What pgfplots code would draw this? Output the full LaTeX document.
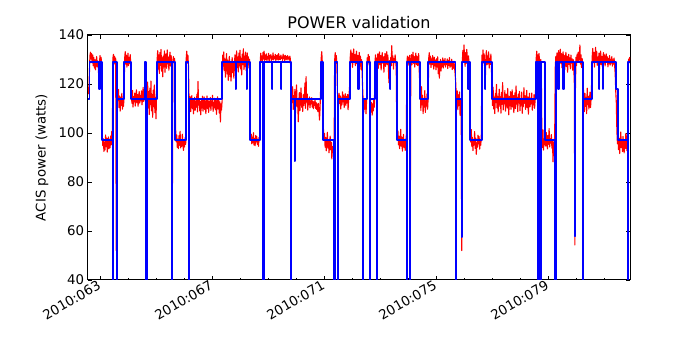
\documentclass[border=0pt]{standalone}
\usepackage{pgfplots}
\pgfplotsset{compat=1.18}
\usepackage{fontspec}
\setmainfont{DejaVu Sans}

\begin{document}
\begin{tikzpicture}
\path[use as bounding box] (-79.2pt,-63pt) rectangle (550.8pt,252pt);
\begin{axis}[
  scale only axis, width=487.8pt, height=220.5pt,
  xmin=62.571, xmax=81.929, ymin=40, ymax=140,
  xtick={63,67,71,75,79},
  xticklabels={2010:063,2010:067,2010:071,2010:075,2010:079},
  minor xtick={63,...,81},
  ytick={40,60,...,140},
  tick align=inside,
  major tick length=4pt, minor tick length=2pt,
  every tick/.style={black, line width=0.6pt},
  axis line style={line width=0.9pt},
  /pgf/number format/assume math mode=true,
  tick label style={font=\fontsize{12}{14}\selectfont},
  xticklabel style={rotate=30, anchor=east, xshift=1pt, yshift=-3pt},
  ylabel={ACIS power (watts)},
  ylabel style={font=\fontsize{12}{14}\selectfont, at={(axis description cs:-0.085,0.5)}, anchor=center},
  title={POWER validation},
  every axis title/.style={font=\fontsize{14.4}{17}\selectfont, at={(axis description cs:0.5,1)}, anchor=base, yshift=5.4pt},
]
% telemetry (red)
\addplot[red, line width=1pt, line join=round] coordinates {
(62.575,117.0) (62.58,118.5) (62.60,116.0) (62.62,124.0) (62.64,131.5) (62.66,133.0) (62.68,130.2) (62.70,132.4) (62.72,128.6) (62.74,131.9)
(62.76,127.4) (62.78,130.8) (62.80,126.5) (62.82,129.9) (62.84,125.8) (62.86,128.7) (62.88,131.2) (62.90,127.1) (62.92,129.4) (62.94,126.3)
(62.96,122.0) (62.98,128.5) (63.00,131.6) (63.02,128.0) (63.04,130.9) (63.06,126.2) (63.08,99.5) (63.10,94.8) (63.12,97.6) (63.14,92.5)
(63.16,96.3) (63.18,93.1) (63.20,99.2) (63.22,94.4) (63.24,97.9) (63.26,92.2) (63.28,95.8) (63.30,98.4) (63.32,93.6) (63.34,96.9)
(63.36,94.0) (63.38,98.8) (63.40,95.2) (63.42,100.6) (63.44,96.4) (63.46,130.5) (63.48,132.1) (63.50,128.4) (63.52,131.3) (63.54,127.9)
(63.56,130.6) (63.58,52.0) (63.60,128.2) (63.62,116.5) (63.64,113.2) (63.66,117.8) (63.68,110.4) (63.70,115.1) (63.72,108.9) (63.74,114.6)
(63.76,111.3) (63.78,116.2) (63.80,109.7) (63.82,113.8) (63.84,110.9) (63.86,115.4) (63.88,130.4) (63.90,133.2) (63.92,128.1) (63.94,131.8)
(63.96,126.9) (63.98,130.1) (64.00,132.6) (64.02,127.5) (64.04,130.9) (64.06,128.3) (64.08,132.0) (64.10,127.2) (64.12,115.8) (64.14,112.1)
(64.16,117.4) (64.18,110.6) (64.20,114.9) (64.22,112.7) (64.24,116.3) (64.26,111.0) (64.28,114.2) (64.30,117.6) (64.32,112.4) (64.34,115.7)
(64.36,110.9) (64.38,114.8) (64.40,116.9) (64.42,112.2) (64.44,115.3) (64.46,113.1) (64.48,117.2) (64.50,111.5) (64.52,114.4) (64.54,118.6)
(64.56,112.9) (64.58,116.1) (64.60,113.6) (64.62,121.5) (64.64,128.0) (64.66,118.0) (64.68,113.4) (64.70,120.8) (64.72,110.2) (64.74,116.9)
(64.76,107.5) (64.78,118.3) (64.80,111.6) (64.82,121.2) (64.84,109.0) (64.86,115.7) (64.88,106.4) (64.90,117.5) (64.92,110.8) (64.94,119.6)
(64.96,108.3) (64.98,114.5) (65.00,105.8) (65.02,116.2) (65.04,129.8) (65.06,133.6) (65.08,126.1) (65.10,131.9) (65.12,124.3) (65.14,132.8)
(65.16,127.6) (65.18,134.1) (65.20,125.2) (65.22,130.7) (65.24,122.9) (65.26,131.4) (65.28,127.0) (65.30,133.5) (65.32,124.8) (65.34,129.6)
(65.36,132.3) (65.38,126.4) (65.40,133.9) (65.42,128.2) (65.44,131.0) (65.46,125.6) (65.48,130.3) (65.50,133.0) (65.52,127.3) (65.54,131.6)
(65.56,129.0) (65.58,53.5) (65.60,127.5) (65.62,131.2) (65.64,128.8) (65.66,130.4) (65.68,127.9) (65.70,101.8) (65.72,96.4) (65.74,99.2)
(65.76,94.1) (65.78,97.5) (65.80,93.6) (65.82,98.9) (65.84,95.0) (65.86,100.7) (65.88,93.9) (65.90,97.3) (65.92,94.6) (65.94,99.5)
(65.96,95.8) (65.98,92.9) (66.00,96.7) (66.02,94.3) (66.04,98.1) (66.06,95.4) (66.08,130.6) (66.10,133.4) (66.12,128.5) (66.14,131.7)
(66.16,127.2) (66.18,113.5) (66.20,110.8) (66.22,114.9) (66.24,108.7) (66.26,112.6) (66.28,115.3) (66.30,109.9) (66.32,113.7) (66.34,107.8)
(66.36,112.1) (66.38,114.6) (66.40,109.3) (66.42,113.0) (66.44,110.5) (66.46,115.8) (66.48,108.6) (66.50,121.0) (66.52,111.4) (66.54,114.1)
(66.56,109.0) (66.58,112.8) (66.60,107.4) (66.62,113.9) (66.64,110.2) (66.66,115.0) (66.68,108.9) (66.70,112.3) (66.72,114.7) (66.74,109.6)
(66.76,113.2) (66.78,107.9) (66.80,111.8) (66.82,115.1) (66.84,110.0) (66.86,113.6) (66.88,108.4) (66.90,112.9) (66.92,110.7) (66.94,114.5)
(66.96,109.2) (66.98,113.0) (67.00,111.1) (67.02,115.4) (67.04,108.8) (67.06,112.5) (67.08,110.3) (67.10,114.2) (67.12,109.5) (67.14,113.3)
(67.16,107.6) (67.18,112.0) (67.20,114.8) (67.22,109.8) (67.24,113.5) (67.26,108.1) (67.28,112.7) (67.30,104.5) (67.32,111.9) (67.34,109.4)
(67.36,113.0) (67.38,131.8) (67.40,127.3) (67.42,133.1) (67.44,125.6) (67.46,130.2) (67.48,122.8) (67.50,128.9) (67.52,132.4) (67.54,124.1)
(67.56,129.7) (67.58,121.5) (67.60,127.8) (67.62,131.3) (67.64,123.0) (67.66,128.5) (67.68,121.2) (67.70,126.9) (67.72,130.8) (67.74,124.6)
(67.76,129.1) (67.78,122.4) (67.80,127.6) (67.82,131.9) (67.84,125.3) (67.86,129.8) (67.88,133.5) (67.90,126.7) (67.92,131.0) (67.94,124.9)
(67.96,132.6) (67.98,127.4) (68.00,133.8) (68.02,126.2) (68.04,130.5) (68.06,123.7) (68.08,132.2) (68.10,128.0) (68.12,134.4) (68.14,125.9)
(68.16,131.4) (68.18,127.1) (68.20,133.0) (68.22,125.4) (68.24,129.3) (68.26,132.7) (68.28,127.8) (68.30,131.1) (68.32,126.5) (68.34,130.0)
(68.36,100.8) (68.38,97.2) (68.40,99.5) (68.42,95.6) (68.44,98.3) (68.46,96.0) (68.48,100.1) (68.50,95.1) (68.52,97.8) (68.54,94.8)
(68.56,99.0) (68.58,96.4) (68.60,98.6) (68.62,95.3) (68.64,97.1) (68.66,94.6) (68.68,98.2) (68.70,96.9) (68.72,127.9) (68.74,132.6)
(68.76,129.8) (68.78,131.5) (68.80,128.7) (68.82,132.9) (68.84,130.2) (68.86,133.4) (68.88,129.6) (68.90,131.8) (68.92,130.0) (68.94,132.3)
(68.96,129.4) (68.98,131.1) (69.00,130.3) (69.02,132.5) (69.04,129.1) (69.06,131.7) (69.08,130.6) (69.10,132.0) (69.12,129.3) (69.14,131.4)
(69.16,130.1) (69.18,132.7) (69.20,129.8) (69.22,131.2) (69.24,130.4) (69.26,132.1) (69.28,129.5) (69.30,131.6) (69.32,130.2) (69.34,131.9)
(69.36,129.7) (69.38,132.4) (69.40,130.0) (69.42,131.3) (69.44,129.9) (69.46,131.8) (69.48,130.5) (69.50,131.0) (69.52,129.6) (69.54,132.2)
(69.56,130.3) (69.58,131.5) (69.60,129.4) (69.62,131.7) (69.64,130.1) (69.66,131.2) (69.68,129.8) (69.70,131.6) (69.72,130.2) (69.74,130.9)
(69.76,129.7) (69.78,131.4) (69.80,130.0) (69.84,116.0) (69.86,112.5) (69.88,118.9) (69.90,109.6) (69.92,115.2) (69.94,111.0) (69.96,117.8)
(69.98,108.2) (70.00,114.3) (70.02,119.6) (70.04,110.7) (70.06,113.9) (70.08,104.6) (70.10,112.8) (70.12,116.5) (70.14,109.1) (70.16,114.0)
(70.18,118.4) (70.20,110.5) (70.22,113.7) (70.24,108.8) (70.26,115.6) (70.28,111.2) (70.30,114.8) (70.32,120.4) (70.34,110.1) (70.36,123.0)
(70.38,112.6) (70.40,115.9) (70.42,109.4) (70.44,113.5) (70.46,111.6) (70.48,114.7) (70.50,110.3) (70.52,113.1) (70.54,111.9) (70.56,114.4)
(70.58,110.6) (70.60,113.0) (70.62,109.9) (70.64,112.7) (70.66,111.3) (70.68,113.8) (70.70,110.0) (70.72,112.4) (70.74,109.6) (70.76,111.8)
(70.78,108.7) (70.80,112.1) (70.82,109.2) (70.84,105.3) (70.86,110.4) (70.88,118.0) (70.90,130.4) (70.92,133.2) (70.94,128.6) (70.96,124.0)
(70.98,101.5) (71.00,97.3) (71.02,99.8) (71.04,94.2) (71.06,98.1) (71.08,92.7) (71.10,96.5) (71.12,100.3) (71.14,93.8) (71.16,97.0)
(71.18,91.9) (71.20,95.6) (71.22,98.7) (71.24,93.1) (71.26,96.2) (71.28,89.4) (71.30,94.5) (71.32,92.0) (71.34,95.9) (71.36,90.8)
(71.38,129.5) (71.40,132.8) (71.42,128.3) (71.44,131.6) (71.46,127.9) (71.48,116.5) (71.50,114.6) (71.52,110.9) (71.54,116.2) (71.56,112.0)
(71.58,115.1) (71.60,109.8) (71.62,114.3) (71.64,111.5) (71.66,116.8) (71.68,112.7) (71.70,115.5) (71.72,110.4) (71.74,113.6) (71.76,116.0)
(71.78,111.2) (71.80,114.9) (71.82,112.3) (71.84,115.7) (71.86,109.5) (71.88,113.8) (71.90,116.4) (71.92,120.0) (71.94,131.5) (71.96,133.9)
(71.98,128.7) (72.00,132.6) (72.02,126.8) (72.04,131.2) (72.06,134.3) (72.08,129.4) (72.10,132.0) (72.12,127.5) (72.14,130.8) (72.16,133.4)
(72.18,128.2) (72.20,131.7) (72.22,124.6) (72.24,130.1) (72.26,132.9) (72.28,127.3) (72.30,131.4) (72.32,126.0) (72.34,129.9) (72.36,125.2)
(72.38,118.3) (72.40,112.6) (72.42,108.4) (72.44,114.1) (72.46,109.7) (72.48,113.5) (72.50,107.8) (72.52,112.9) (72.54,130.7) (72.56,127.6)
(72.58,132.1) (72.60,128.9) (72.62,131.3) (72.66,113.2) (72.68,108.6) (72.70,112.4) (72.72,107.3) (72.74,111.9) (72.76,109.0) (72.78,113.7)
(72.80,110.5) (72.82,128.6) (72.84,131.9) (72.86,127.7) (72.88,130.6) (72.90,128.1) (72.92,132.3) (72.94,126.4) (72.96,130.9) (72.98,133.1)
(73.00,127.9) (73.02,131.6) (73.04,125.7) (73.06,130.2) (73.08,132.8) (73.10,128.5) (73.12,131.1) (73.14,124.8) (73.16,129.7) (73.18,132.5)
(73.20,127.2) (73.22,130.4) (73.24,133.2) (73.26,128.0) (73.28,131.8) (73.30,126.6) (73.32,120.5) (73.34,129.5) (73.36,123.9) (73.38,130.8)
(73.40,127.4) (73.42,135.6) (73.44,128.9) (73.46,131.5) (73.48,126.1) (73.50,130.3) (73.52,128.8) (73.54,131.9) (73.56,129.2) (73.58,126.4)
(73.60,102.0) (73.62,97.6) (73.64,100.9) (73.66,95.2) (73.68,98.7) (73.70,93.6) (73.72,97.9) (73.74,101.5) (73.76,94.7) (73.78,98.3)
(73.80,92.6) (73.82,96.8) (73.84,99.4) (73.86,94.0) (73.88,97.1) (73.90,92.9) (73.92,96.4) (73.94,99.0) (73.96,128.7) (73.98,131.4)
(74.00,127.6) (74.02,130.9) (74.04,128.2) (74.06,131.7) (74.08,52.5) (74.10,129.3) (74.12,132.0) (74.14,127.8) (74.16,130.6) (74.18,133.0)
(74.20,128.4) (74.22,131.2) (74.24,126.9) (74.26,130.5) (74.28,132.6) (74.30,128.0) (74.32,131.3) (74.34,127.5) (74.36,130.1) (74.38,132.4)
(74.40,125.8) (74.42,120.5) (74.44,116.8) (74.46,109.2) (74.48,118.9) (74.50,111.5) (74.52,115.4) (74.54,107.9) (74.56,114.0) (74.58,110.6)
(74.60,117.3) (74.62,108.4) (74.64,113.1) (74.66,111.0) (74.68,116.0) (74.70,109.7) (74.72,114.3) (74.74,130.5) (74.76,132.8) (74.78,128.1)
(74.80,131.4) (74.82,126.7) (74.84,130.2) (74.86,127.9) (74.88,131.6) (74.90,128.8) (74.92,126.1) (74.94,130.9) (74.96,127.4) (74.98,129.6)
(75.00,125.8) (75.02,130.3) (75.04,127.0) (75.06,131.1) (75.08,124.2) (75.10,128.5) (75.12,122.4) (75.14,127.7) (75.16,130.0) (75.18,125.3)
(75.20,129.2) (75.22,127.1) (75.24,130.6) (75.26,126.5) (75.28,129.7) (75.30,127.8) (75.32,130.4) (75.34,126.9) (75.36,129.1) (75.38,128.0)
(75.40,130.2) (75.42,126.3) (75.44,129.5) (75.46,127.6) (75.48,130.8) (75.50,126.8) (75.52,129.0) (75.54,127.3) (75.56,130.1) (75.58,125.9)
(75.60,128.6) (75.62,126.4) (75.64,129.3) (75.66,127.0) (75.68,124.7) (75.70,121.5) (75.72,116.4) (75.74,112.0) (75.76,117.2) (75.78,109.5)
(75.80,115.6) (75.82,111.3) (75.84,116.8) (75.86,107.2) (75.88,113.9) (75.90,110.6) (75.92,52.0) (75.94,128.9) (75.96,133.7) (75.98,129.5)
(76.00,135.9) (76.02,130.6) (76.04,127.2) (76.06,132.8) (76.08,128.4) (76.10,134.1) (76.12,130.0) (76.14,126.8) (76.16,131.5) (76.18,128.6)
(76.20,124.5) (76.22,99.8) (76.24,96.3) (76.26,101.4) (76.28,94.5) (76.30,98.2) (76.32,92.8) (76.34,97.4) (76.36,95.1) (76.38,100.6)
(76.40,93.7) (76.42,97.9) (76.44,91.3) (76.46,96.0) (76.48,94.2) (76.50,99.1) (76.52,95.6) (76.54,98.5) (76.56,93.4) (76.58,97.2)
(76.60,95.0) (76.62,99.6) (76.64,131.8) (76.66,127.4) (76.68,133.9) (76.70,128.6) (76.72,132.3) (76.74,126.9) (76.76,120.5) (76.78,130.7)
(76.80,133.6) (76.82,127.8) (76.84,131.5) (76.86,128.2) (76.88,133.1) (76.90,126.5) (76.92,130.4) (76.94,128.0) (76.96,132.2) (76.98,127.0)
(77.00,116.5) (77.02,111.2) (77.04,118.7) (77.06,109.8) (77.08,114.6) (77.10,107.9) (77.12,116.1) (77.14,112.4) (77.16,119.8) (77.18,110.3)
(77.20,115.0) (77.22,108.6) (77.24,113.7) (77.26,117.9) (77.28,110.9) (77.30,114.8) (77.32,108.1) (77.34,116.6) (77.36,111.7) (77.38,120.6)
(77.40,109.4) (77.42,114.2) (77.44,112.0) (77.46,117.3) (77.48,108.9) (77.50,113.4) (77.52,115.8) (77.54,110.2) (77.56,118.2) (77.58,112.5)
(77.60,107.4) (77.62,114.9) (77.64,111.1) (77.66,116.9) (77.68,109.7) (77.70,113.1) (77.72,117.6) (77.74,110.6) (77.76,115.3) (77.78,108.3)
(77.80,112.8) (77.82,116.4) (77.84,110.0) (77.86,119.2) (77.88,111.8) (77.90,114.5) (77.92,108.7) (77.94,115.9) (77.96,112.3) (77.98,117.0)
(78.00,109.1) (78.02,113.9) (78.04,111.4) (78.06,116.7) (78.08,108.0) (78.10,114.1) (78.12,110.8) (78.14,118.5) (78.16,112.1) (78.18,115.2)
(78.20,109.6) (78.22,113.6) (78.24,117.4) (78.26,110.4) (78.28,114.7) (78.30,107.7) (78.32,112.9) (78.34,116.2) (78.36,110.7) (78.38,114.0)
(78.40,111.9) (78.42,116.3) (78.44,109.3) (78.46,113.5) (78.48,111.5) (78.50,115.6) (78.52,110.1) (78.54,113.3) (78.56,118.5) (78.58,130.6)
(78.60,133.4) (78.62,127.8) (78.64,131.9) (78.66,125.3) (78.68,132.5) (78.70,128.1) (78.72,122.6) (78.74,130.0) (78.76,126.4) (78.78,99.5)
(78.80,94.1) (78.82,101.3) (78.84,93.0) (78.86,97.6) (78.88,95.2) (78.90,98.8) (78.92,94.7) (78.94,100.2) (78.96,96.1) (78.98,93.5)
(79.00,99.0) (79.02,95.4) (79.04,101.8) (79.06,94.3) (79.08,97.7) (79.10,95.9) (79.12,99.4) (79.14,93.8) (79.16,97.0) (79.18,88.2)
(79.20,96.3) (79.22,94.9) (79.24,99.1) (79.26,126.8) (79.28,131.3) (79.30,128.4) (79.32,132.7) (79.34,126.1) (79.36,130.5) (79.38,133.6)
(79.40,127.9) (79.42,131.0) (79.44,134.2) (79.46,128.3) (79.48,132.4) (79.50,126.6) (79.52,130.8) (79.54,133.1) (79.56,127.5) (79.58,131.7)
(79.60,125.9) (79.62,130.2) (79.64,132.9) (79.66,127.1) (79.68,131.4) (79.70,124.8) (79.72,129.6) (79.74,132.1) (79.76,127.9) (79.78,130.7)
(79.80,126.2) (79.82,131.8) (79.84,128.5) (79.86,130.3) (79.88,125.6) (79.90,129.9) (79.92,127.4) (79.94,120.5) (79.96,54.3) (79.98,118.0)
(80.00,130.9) (80.02,127.5) (80.04,132.2) (80.06,128.8) (80.08,133.0) (80.10,129.2) (80.12,131.6) (80.14,135.9) (80.16,128.1) (80.18,131.9)
(80.20,126.7) (80.22,130.4) (80.24,127.8) (80.26,119.5) (80.28,113.6) (80.30,108.7) (80.32,116.2) (80.34,110.9) (80.36,114.5) (80.38,107.9)
(80.40,118.3) (80.42,111.6) (80.44,115.0) (80.46,109.8) (80.48,113.2) (80.50,116.7) (80.52,110.4) (80.54,114.1) (80.56,120.8) (80.58,131.2)
(80.60,134.5) (80.62,128.7) (80.64,132.9) (80.66,126.9) (80.68,131.5) (80.70,135.0) (80.72,129.1) (80.74,133.2) (80.76,127.6) (80.78,131.0)
(80.80,128.3) (80.82,132.6) (80.84,126.2) (80.86,130.7) (80.88,133.4) (80.90,128.0) (80.92,131.3) (80.94,127.2) (80.96,130.5) (80.98,132.8)
(81.00,128.6) (81.02,131.9) (81.04,127.4) (81.06,130.1) (81.08,132.3) (81.10,128.9) (81.12,131.1) (81.14,127.0) (81.16,130.4) (81.18,128.2)
(81.20,131.6) (81.22,127.7) (81.24,130.0) (81.26,128.5) (81.28,131.2) (81.30,127.3) (81.32,129.8) (81.34,128.1) (81.36,130.6) (81.38,127.5)
(81.40,124.3) (81.42,117.0) (81.44,112.5) (81.46,101.2) (81.48,95.6) (81.50,99.3) (81.52,93.2) (81.54,97.8) (81.56,91.6) (81.58,96.2)
(81.60,100.4) (81.62,94.0) (81.64,97.3) (81.66,92.4) (81.68,98.6) (81.70,95.1) (81.72,91.9) (81.74,97.0) (81.76,93.7) (81.78,99.8)
(81.80,95.5) (81.82,92.8) (81.84,97.4) (81.86,125.0) (81.88,130.2) (81.90,128.6) (81.92,131.0)
};
% model (blue)
\addplot[blue, line width=1.6pt, const plot, line join=round] coordinates {
(62.571,114) (62.625,129) (62.964,118) (62.986,129) (63.071,97) (63.450,0) (63.471,129) (63.600,0) (63.625,114) (63.868,129)
(64.107,114) (64.618,129) (64.650,0) (64.671,114) (65.025,129) (65.564,0) (65.586,129) (65.689,97) (66.071,129) (66.157,0)
(66.179,114) (67.368,129) (67.839,118) (67.857,129) (68.232,118) (68.250,129) (68.357,97) (68.714,129) (68.825,0) (68.846,129)
(69.143,118) (69.161,129) (69.464,118) (69.482,129) (69.821,0) (69.843,114) (69.950,88.6) (69.971,114) (70.893,129) (70.975,97)
(71.364,0) (71.386,129) (71.479,0) (71.500,114) (71.929,129) (72.221,118) (72.239,129) (72.375,0) (72.397,114) (72.525,129)
(72.636,0) (72.657,114) (72.821,129) (72.879,0) (72.900,129) (73.357,118) (73.375,129) (73.596,97) (73.950,0) (73.971,129)
(74.071,0) (74.093,129) (74.429,114) (74.725,129) (75.700,0) (75.725,114) (75.911,57.5) (75.932,129) (76.154,118) (76.171,129)
(76.214,97) (76.632,129) (76.750,118) (76.768,129) (76.990,114) (78.571,129) (78.650,0) (78.668,129) (78.743,0) (78.764,129)
(78.893,97) (79.261,0) (79.282,129) (79.368,118) (79.386,129) (79.546,118) (79.564,129) (79.946,57.8) (79.982,129) (80.250,0)
(80.271,114) (80.561,129) (80.821,118) (80.839,129) (80.954,118) (80.971,129) (81.439,118) (81.496,97) (81.836,0) (81.871,129)
(81.929,129)
};
\end{axis}
\end{tikzpicture}
\end{document}
